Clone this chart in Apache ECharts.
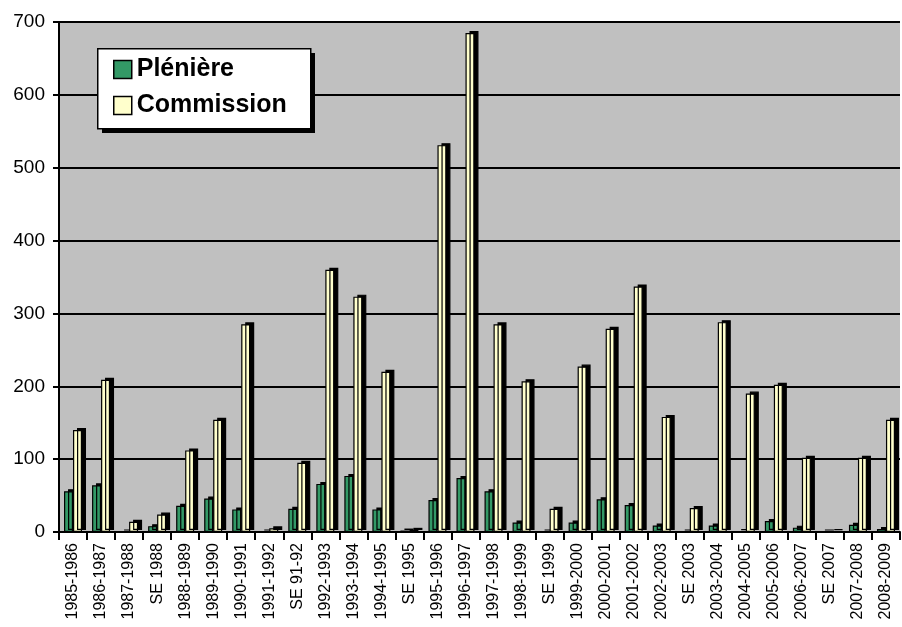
<!DOCTYPE html>
<html>
<head>
<meta charset="utf-8">
<script src="https://cdn.jsdelivr.net/npm/echarts@6/dist/echarts.min.js"></script>
<style>
  html, body { margin: 0; padding: 0; background: #ffffff; }
  #chart { width: 902px; height: 627px; }
</style>
</head>
<body>
<div id="chart"></div>
<script>
// données
const categories = ['1985-1986', '1986-1987', '1987-1988', 'SE 1988', '1988-1989', '1989-1990', '1990-1991',
  '1991-1992', 'SE 91-92', '1992-1993', '1993-1994', '1994-1995', 'SE 1995', '1995-1996', '1996-1997',
  '1997-1998', '1998-1999', 'SE 1999', '1999-2000', '2000-2001', '2001-2002', '2002-2003', 'SE 2003',
  '2003-2004', '2004-2005', '2005-2006', '2006-2007', 'SE 2007', '2007-2008', '2008-2009']
const pleniere = [56, 64, 0, 8, 36, 46, 31, 0, 32, 66, 77, 31, 2, 44, 74, 56, 13, 0, 13, 45, 37, 9, 0, 9, 1, 15, 6, 0, 10, 4]
const commission = [140, 209, 14, 24, 112, 154, 285, 5, 95, 360, 323, 220, 3, 531, 685, 285, 207, 32, 227, 279, 337, 158, 33, 288, 190, 202, 102, 1, 102, 154]
const yTicks = [0, 100, 200, 300, 400, 500, 600, 700]

const chart = echarts.init(document.getElementById('chart'))

// style "3D" des barres : contour noir + ombre décalée
const barStyle = (color) => ({
  color: color,
  borderColor: '#000',
  borderWidth: 1.2,
  shadowColor: '#000',
  shadowBlur: 0,
  shadowOffsetX: 4,
  shadowOffsetY: -2
})

const option = {
  backgroundColor: '#ffffff',
  animation: false,
  textStyle: { fontFamily: 'Liberation Sans, Arial, sans-serif' },
  grid: {
    left: 59,
    right: 2,
    top: 22,
    bottom: 95,
    show: true,
    backgroundColor: '#c0c0c0',
    borderWidth: 0
  },
  // cadre de la légende avec ombre portée
  graphic: [
    { type: 'rect', left: 102, top: 53, z: 10, shape: { width: 213, height: 80 }, style: { fill: '#000' } },
    { type: 'rect', left: 97, top: 48, z: 11, shape: { width: 213, height: 80 }, style: { fill: '#fff', stroke: '#000', lineWidth: 1.5 } }
  ],
  legend: {
    orient: 'vertical',
    left: 113,
    top: 57,
    padding: 0,
    z: 20,
    itemWidth: 18,
    itemHeight: 18,
    itemGap: 11,
    icon: 'rect',
    itemStyle: { shadowOffsetX: 0, shadowOffsetY: 0, borderWidth: 1.5 },
    textStyle: { color: '#000', fontSize: 25, fontWeight: 'bold', padding: [0, 0, 0, 0] },
    data: ['Plénière', 'Commission']
  },
  xAxis: {
    type: 'category',
    data: categories,
    axisLine: { lineStyle: { color: '#000', width: 2 } },
    axisTick: { show: true, length: 8, lineStyle: { color: '#000', width: 2 } },
    axisLabel: { rotate: 90, color: '#000', fontSize: 16, margin: 11, interval: 0 }
  },
  yAxis: {
    type: 'value',
    min: yTicks[0],
    max: yTicks[yTicks.length - 1],
    interval: 100,
    axisLine: { show: true, lineStyle: { color: '#000', width: 2 } },
    axisTick: { show: true, length: 6, lineStyle: { color: '#000', width: 2 } },
    axisLabel: { color: '#000', fontSize: 19, margin: 14 },
    splitLine: { lineStyle: { color: '#000', width: 2 } }
  },
  series: [
    {
      name: 'Plénière',
      type: 'bar',
      data: pleniere,
      barWidth: 9,
      barGap: '0%',
      itemStyle: barStyle('#339966')
    },
    {
      name: 'Commission',
      type: 'bar',
      data: commission,
      barWidth: 9,
      itemStyle: barStyle('#ffffcc')
    }
  ]
}

chart.setOption(option)
</script>
</body>
</html>
